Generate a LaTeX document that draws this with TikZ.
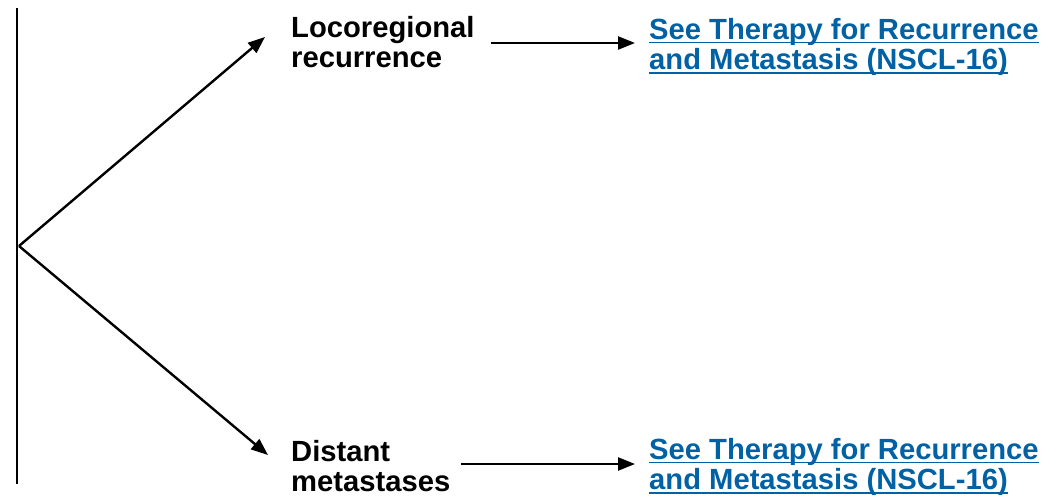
\documentclass[tikz,border=0pt]{standalone}
\usepackage{fontspec}
\setmainfont{Liberation Sans}
\usetikzlibrary{arrows.meta,calc}
\definecolor{linkblue}{RGB}{0,97,165}
% underline set just below the baseline, crossing the descenders
\newcommand\linkline[1]{\leavevmode\setbox0\hbox{#1}\rlap{\rule[-4pt]{\wd0}{1.8pt}}\box0}

\begin{document}
\begin{tikzpicture}[x=1pt,y=-1pt,
  line width=2.4pt,
  lbl/.style={font=\bfseries\fontsize{29.2}{30.5}\selectfont, align=left,
    inner sep=0pt, anchor=north west},
  link/.style={lbl, text=linkblue},
  arr/.style={-{Triangle[length=17pt,width=13pt]}}]
\useasboundingbox (0,0) rectangle (1057,500);

% outcome labels
\node[lbl]  (loco)   at (290,15)  {Locoregional\\recurrence};
\node[lbl]  (dist)   at (290,439) {Distant\\metastases};
\node[link] (ther1)  at (648,17)  {\linkline{See Therapy for Recurrence}\\\linkline{and Metastasis (NSCL-16)}};
\node[link] (ther2)  at (648,437) {\linkline{See Therapy for Recurrence}\\\linkline{and Metastasis (NSCL-16)}};

% trunk and branching point
\coordinate (top)  at (17,8);
\coordinate (bot)  at (17,484);
\coordinate (apex) at (19,246);
\coordinate (tipA) at (265,37);
\coordinate (tipB) at (268,455);
\draw (top) -- (bot);

\draw[arr] (apex) -- (tipA);
\draw[arr] (apex) -- (tipB);

% follow-up arrows, kept level
\coordinate (rowA) at (0,43);
\coordinate (rowB) at (0,464);
\draw[arr] ($(loco.east |- rowA)+(15,0)$) -- ($(ther1.west |- rowA)+(-13,0)$);
\draw[arr] ($(dist.east |- rowB)+(10,0)$) -- ($(ther2.west |- rowB)+(-13,0)$);
\end{tikzpicture}
\end{document}
